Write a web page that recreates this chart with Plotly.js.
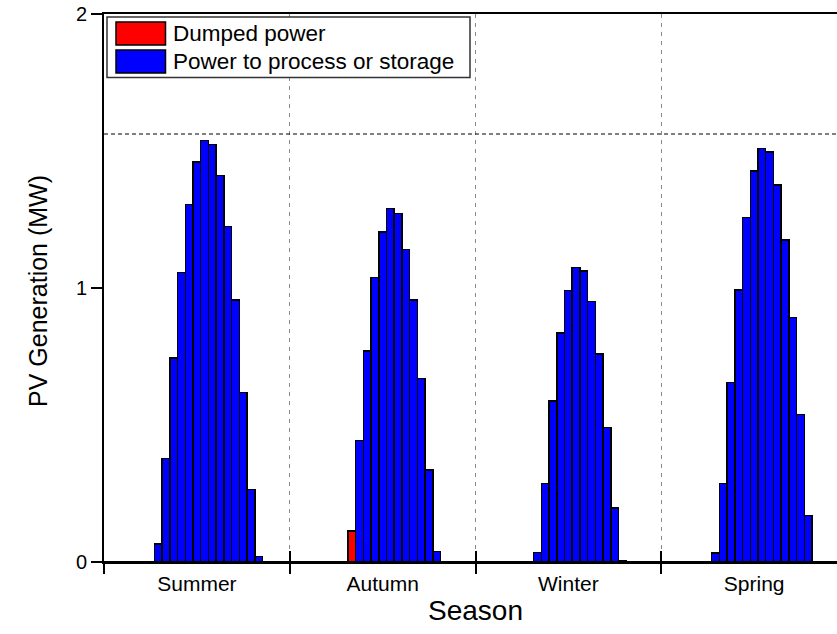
<!DOCTYPE html>
<html>
<head>
<meta charset="utf-8">
<script src="https://cdn.plot.ly/plotly-3.0.1.min.js"></script>
<style>
  html, body { margin: 0; padding: 0; background: #fff; overflow: hidden; }
  #chart { width: 850px; height: 634px; }
</style>
</head>
<body>
<div id="chart"></div>
<script>
// Seasonal typical-day PV output, one bar per hour (MW)
const seasons = ['Summer', 'Autumn', 'Winter', 'Spring'];
const hoursPerDay = 24;

// Power sent to the process or to storage, hours 0..23
const summerProcess = [0, 0, 0, 0, 0, 0, 0, 0.066, 0.377, 0.744, 1.057, 1.305, 1.459, 1.538, 1.524, 1.410, 1.224, 0.956, 0.618, 0.265, 0.020, 0, 0, 0];
const autumnProcess = [0, 0, 0, 0, 0, 0, 0, 0, 0, 0.443, 0.771, 1.038, 1.205, 1.290, 1.272, 1.141, 0.956, 0.670, 0.336, 0.038, 0, 0, 0, 0];
const winterProcess = [0, 0, 0, 0, 0, 0, 0, 0, 0.035, 0.287, 0.588, 0.835, 0.990, 1.074, 1.062, 0.950, 0.759, 0.490, 0.198, 0.005, 0, 0, 0, 0];
const springProcess = [0, 0, 0, 0, 0, 0, 0, 0.032, 0.287, 0.656, 0.993, 1.257, 1.427, 1.510, 1.497, 1.376, 1.175, 0.892, 0.539, 0.169, 0, 0, 0, 0];

// Power that had to be dumped, hours 0..23
const summerDumped = [0, 0, 0, 0, 0, 0, 0, 0, 0, 0, 0, 0, 0, 0, 0, 0, 0, 0, 0, 0, 0, 0, 0, 0];
const autumnDumped = [0, 0, 0, 0, 0, 0, 0, 0, 0.114, 0, 0, 0, 0, 0, 0, 0, 0, 0, 0, 0, 0, 0, 0, 0];
const winterDumped = [0, 0, 0, 0, 0, 0, 0, 0, 0, 0, 0, 0, 0, 0, 0, 0, 0, 0, 0, 0, 0, 0, 0, 0];
const springDumped = [0, 0, 0, 0, 0, 0, 0, 0, 0, 0, 0, 0, 0, 0, 0, 0, 0, 0, 0, 0, 0, 0, 0, 0];

// Upper reference level (MW), dashed line
const referenceLevel = 1.562;

const processBySeason = [summerProcess, autumnProcess, winterProcess, springProcess];
const dumpedBySeason = [summerDumped, autumnDumped, winterDumped, springDumped];

// Flatten the four days onto one continuous hour axis
const xHour = [], yProcess = [], yDumped = [];
seasons.forEach((s, si) => {
  for (let h = 0; h < hoursPerDay; h++) {
    xHour.push(si * hoursPerDay + h);
    yProcess.push(processBySeason[si][h]);
    yDumped.push(dumpedBySeason[si][h]);
  }
});

const FONT = 'Arial, "Liberation Sans", Helvetica, sans-serif';
const BLUE = '#0000ff', RED = '#ff0000';

const seriesDumped = { name: 'Dumped power', color: RED };
const seriesProcess = { name: 'Power to process or storage', color: BLUE };

const barLine = { color: '#000', width: 1.5 };

const traces = [
  {
    type: 'bar', x: xHour, y: yProcess, name: seriesProcess.name,
    width: 1, marker: { color: seriesProcess.color, line: barLine },
    showlegend: false, hoverinfo: 'x+y'
  },
  {
    type: 'bar', x: xHour, y: yDumped, name: seriesDumped.name,
    width: 1, marker: { color: seriesDumped.color, line: barLine },
    showlegend: false, hoverinfo: 'x+y'
  },
  // empty traces that attach the boundary-tick axes
  { type: 'scatter', x: [], y: [], xaxis: 'x2', showlegend: false, hoverinfo: 'skip' },
  { type: 'scatter', x: [], y: [], xaxis: 'x3', showlegend: false, hoverinfo: 'skip' }
];

// Figure is slightly wider than the window; the right edge runs off the page
const W = 850, H = 634;
const M = { l: 104, r: 3, t: 14, b: 72 };
const PW = W - M.l - M.r, PH = H - M.t - M.b;
const px = v => (v - M.l) / PW;
const py = v => (H - M.b - v) / PH;

const xMax = seasons.length * hoursPerDay;
const boundaries = seasons.map((s, i) => i * hoursPerDay).concat([xMax]);
const centers = seasons.map((s, i) => i * hoursPerDay + hoursPerDay / 2);

const shapes = [
  // dashed reference level
  { type: 'line', xref: 'paper', yref: 'y', x0: 0, x1: 1, y0: referenceLevel, y1: referenceLevel,
    line: { color: '#000', width: 1.2, dash: '4px,3px' } },
  // legend frame and swatches
  { type: 'rect', xref: 'paper', yref: 'paper', x0: px(107), x1: px(470), y0: py(17), y1: py(77.5),
    fillcolor: '#fff', line: { color: '#333', width: 1.5 } },
  { type: 'rect', xref: 'paper', yref: 'paper', x0: px(116), x1: px(165.5), y0: py(22), y1: py(45),
    fillcolor: seriesDumped.color, line: { color: '#000', width: 1.5 } },
  { type: 'rect', xref: 'paper', yref: 'paper', x0: px(116), x1: px(165.5), y0: py(50), y1: py(73),
    fillcolor: seriesProcess.color, line: { color: '#000', width: 1.5 } }
];

const legendFont = { family: FONT, size: 22.5, color: '#000' };
const annotations = [
  { xref: 'paper', yref: 'paper', x: px(171), y: py(33.5), xanchor: 'left', yanchor: 'middle',
    text: seriesDumped.name, showarrow: false, font: legendFont },
  { xref: 'paper', yref: 'paper', x: px(171), y: py(61.5), xanchor: 'left', yanchor: 'middle',
    text: seriesProcess.name, showarrow: false, font: legendFont },
  // y-axis title
  { xref: 'paper', yref: 'paper', x: px(38), y: py(291), xanchor: 'center', yanchor: 'middle',
    textangle: -90, text: 'PV Generation (MW)', showarrow: false,
    font: { family: FONT, size: 25, color: '#000' } }
];

const layout = {
  width: W, height: H,
  margin: M,
  paper_bgcolor: '#fff', plot_bgcolor: '#fff',
  barmode: 'stack', bargap: 0,
  showlegend: false,
  font: { family: FONT, color: '#000' },
  xaxis: {
    range: [0, xMax], showgrid: false, zeroline: false,
    showline: true, linecolor: '#000', linewidth: 2, mirror: true,
    tickmode: 'array', tickvals: centers, ticktext: seasons,
    ticks: 'outside', ticklen: 2, tickcolor: 'rgba(0,0,0,0)',
    tickfont: { family: FONT, size: 21, color: '#000' },
    title: { text: 'Season', font: { family: FONT, size: 28, color: '#000' }, standoff: 6 },
    fixedrange: true
  },
  xaxis2: {
    overlaying: 'x', anchor: 'y', side: 'bottom', range: [0, xMax],
    tickmode: 'array', tickvals: boundaries, showticklabels: false,
    ticks: 'outside', ticklen: 11, tickwidth: 2, tickcolor: '#000',
    showgrid: true, gridcolor: '#8a8a8a', gridwidth: 1, griddash: '4px,5px',
    zeroline: false, showline: false, fixedrange: true
  },
  xaxis3: {
    overlaying: 'x', anchor: 'y', side: 'bottom', range: [0, xMax],
    tickmode: 'array', tickvals: boundaries, showticklabels: false,
    ticks: 'inside', ticklen: 11, tickwidth: 2, tickcolor: '#000',
    showgrid: false, zeroline: false, showline: false, fixedrange: true
  },
  yaxis: {
    range: [0, 2], tickmode: 'array', tickvals: [0, 1, 2],
    ticks: 'outside', ticklen: 11, tickwidth: 1.5, tickcolor: '#000',
    ticklabelstandoff: 0,
    showline: true, linecolor: '#000', linewidth: 2,
    showgrid: false, zeroline: false,
    tickfont: { family: FONT, size: 20, color: '#000' },
    fixedrange: true
  },
  shapes: shapes,
  annotations: annotations
};

Plotly.newPlot('chart', traces, layout, { staticPlot: true, displayModeBar: false });
</script>
</body>
</html>
